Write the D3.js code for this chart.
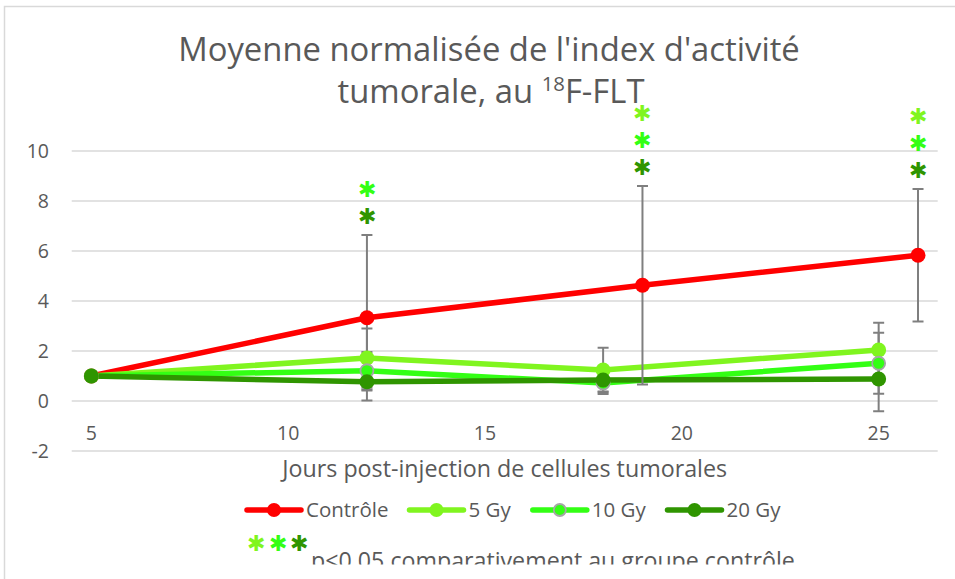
<!DOCTYPE html>
<html>
<head>
<meta charset="utf-8">
<script src="https://cdn.jsdelivr.net/npm/d3@7"></script>
<style>
  html, body { margin: 0; padding: 0; background: #fff; }
  svg { display: block; }
  text { font-family: "Open Sans", "Noto Sans", sans-serif; fill: #595959; }
</style>
</head>
<body>
<svg id="chart" width="955" height="579"></svg>
<script>
// Days after tumour-cell injection
const daysControl = [5, 12, 19, 26];
const daysIrradiated = [5, 12, 18, 25];

// Normalised mean tumour-activity index
const controle = [1, 3.33, 4.63, 5.83];
const gy5 = [1, 1.72, 1.24, 2.04];
const gy10 = [1, 1.21, 0.72, 1.51];
const gy20 = [1, 0.77, 0.84, 0.88];

// Standard deviations
const controleErr = [0, 3.31, 3.97, 2.65];
const gy5Err = [0, 1.18, 0.89, 1.09];
const gy10Err = [0, 0.75, 0.44, 1.22];
const gy20Err = [0, 0.35, 0.46, 1.29];

const seriesNames = ["Contrôle", "5 Gy", "10 Gy", "20 Gy"];
const yTicks = [-2, 0, 2, 4, 6, 8, 10];
const xTicks = [5, 10, 15, 20, 25];

// Significance marks (p<0.05 vs control): day, and which groups
const signifDays = [12, 19, 26];
const signifGroups = [["10 Gy", "20 Gy"], ["5 Gy", "10 Gy", "20 Gy"], ["5 Gy", "10 Gy", "20 Gy"]];

const colors = { "Contrôle": "#ff0000", "5 Gy": "#80f51f", "10 Gy": "#33ff14", "20 Gy": "#2f9500" };

const series = [
  { name: "Contrôle", x: daysControl, y: controle, e: controleErr },
  { name: "5 Gy", x: daysIrradiated, y: gy5, e: gy5Err },
  { name: "10 Gy", x: daysIrradiated, y: gy10, e: gy10Err },
  { name: "20 Gy", x: daysIrradiated, y: gy20, e: gy20Err }
];

const svg = d3.select("#chart");

// chart frame
svg.append("path")
  .attr("d", "M4.5,579 L4.5,6.5 L955,6.5")
  .attr("fill", "none").attr("stroke", "#d9d9d9").attr("stroke-width", 1.5);

const x = d3.scaleLinear().domain([4.5, 26.5]).range([71.7, 937.7]);
const y = d3.scaleLinear().domain([-2, 10]).range([451, 151]);

// gridlines
svg.append("g").selectAll("line").data(yTicks).join("line")
  .attr("x1", x.range()[0]).attr("x2", x.range()[1])
  .attr("y1", d => y(d)).attr("y2", d => y(d))
  .attr("stroke", "#d9d9d9").attr("stroke-width", 1.3);

// y tick labels
svg.append("g").selectAll("text").data(yTicks).join("text")
  .attr("x", 49).attr("y", d => y(d)).attr("dy", "0.35em")
  .attr("text-anchor", "end").attr("font-size", 19.5)
  .text(d => d);

// x tick labels
svg.append("g").selectAll("text").data(xTicks).join("text")
  .attr("x", d => x(d)).attr("y", 433).attr("dy", "0.35em")
  .attr("text-anchor", "middle").attr("font-size", 19.5)
  .text(d => d);

// lines
const line = d3.line().x(d => x(d[0])).y(d => y(d[1]));
series.forEach(s => {
  svg.append("path")
    .datum(s.x.map((d, i) => [d, s.y[i]]))
    .attr("d", line)
    .attr("fill", "none")
    .attr("stroke", colors[s.name])
    .attr("stroke-width", 5.5)
    .attr("stroke-linejoin", "round");
});

// error bars
const eg = svg.append("g").attr("stroke", "#7f7f7f").attr("stroke-width", 2);
series.forEach(s => {
  s.x.forEach((d, i) => {
    if (!s.e[i]) return;
    const cx = x(d), top = y(s.y[i] + s.e[i]), bot = y(s.y[i] - s.e[i]);
    eg.append("line").attr("x1", cx).attr("x2", cx).attr("y1", top).attr("y2", bot);
    eg.append("line").attr("x1", cx - 5.5).attr("x2", cx + 5.5).attr("y1", top).attr("y2", top);
    eg.append("line").attr("x1", cx - 5.5).attr("x2", cx + 5.5).attr("y1", bot).attr("y2", bot);
  });
});

// markers
series.forEach(s => {
  svg.append("g").selectAll("circle").data(s.x.map((d, i) => [d, s.y[i]])).join("circle")
    .attr("cx", d => x(d[0])).attr("cy", d => y(d[1]))
    .attr("r", s.name === "10 Gy" ? 6.5 : 7.5)
    .attr("fill", colors[s.name])
    .attr("stroke", s.name === "10 Gy" ? "#a6a6a6" : "none")
    .attr("stroke-width", 1.8);
});

// significance asterisks, stacked above each control error bar
const STAR = "\u2731";
const starSize = 21.5;
const starShift = starSize * 0.36;
function starText(g, sx, sy, color) {
  return g.append("text")
    .attr("x", sx).attr("y", sy + starShift)
    .attr("font-family", "DejaVu Sans")
    .attr("font-size", starSize)
    .attr("text-anchor", "middle")
    .style("fill", color)
    .text(STAR);
}
const ag = svg.append("g");
signifDays.forEach((d, i) => {
  const idx = daysControl.indexOf(d);
  const topY = y(controle[idx] + controleErr[idx]);
  const groups = signifGroups[i];
  const n = groups.length;
  const gap = 26.7;
  const firstY = topY - 19 - (n - 1) * gap;
  groups.forEach((gname, k) => starText(ag, x(d), firstY + k * gap, colors[gname]));
});

// title
function fitText(sel, target) {
  const w = sel.node().getComputedTextLength();
  const fs = parseFloat(sel.attr("font-size"));
  sel.attr("font-size", fs * target / w);
}
const t1 = svg.append("text").attr("x", 489).attr("y", 61)
  .attr("text-anchor", "middle").attr("font-size", 28)
  .text("Moyenne normalisée de l'index d'activité");
fitText(t1, 622);
const t2 = svg.append("text").attr("x", 491).attr("y", 103)
  .attr("text-anchor", "middle").attr("font-size", t1.attr("font-size"));
t2.append("tspan").text("tumorale, au ");
t2.append("tspan").attr("font-size", parseFloat(t1.attr("font-size")) * 0.62).attr("dy", -12).text("18");
t2.append("tspan").attr("dy", 12).text("F-FLT");

// x axis title
const xt = svg.append("text").attr("x", 504.7).attr("y", 477)
  .attr("text-anchor", "middle").attr("font-size", 20)
  .text("Jours post-injection de cellules tumorales");
fitText(xt, 445);

// legend
const legendX = [247, 409.5, 532.8, 667.5];
const legendY = 510;
const lg = svg.append("g");
series.forEach((s, i) => {
  const x0 = legendX[i];
  lg.append("line").attr("x1", x0).attr("x2", x0 + 54).attr("y1", legendY).attr("y2", legendY)
    .attr("stroke", colors[s.name]).attr("stroke-width", 5.5).attr("stroke-linecap", "round");
  lg.append("circle").attr("cx", x0 + 27).attr("cy", legendY)
    .attr("r", s.name === "10 Gy" ? 6 : 7)
    .attr("fill", colors[s.name])
    .attr("stroke", s.name === "10 Gy" ? "#a6a6a6" : "none").attr("stroke-width", 1.8);
  lg.append("text").attr("x", x0 + 59).attr("y", legendY).attr("dy", "0.35em")
    .attr("font-size", 20.5).text(s.name);
});

// significance note (clipped at the bottom of its box)
svg.append("clipPath").attr("id", "noteClip")
  .append("rect").attr("x", 0).attr("y", 515).attr("width", 955).attr("height", 49.5);
const ng = svg.append("g").attr("clip-path", "url(#noteClip)");
["5 Gy", "10 Gy", "20 Gy"].forEach((gname, k) => starText(ng, 256 + k * 21.7, 543, colors[gname]));
const note = ng.append("text").attr("x", 311).attr("y", 569)
  .attr("font-size", 22).text("p<0.05 comparativement au groupe contrôle");
fitText(note, 484);
</script>
</body>
</html>
